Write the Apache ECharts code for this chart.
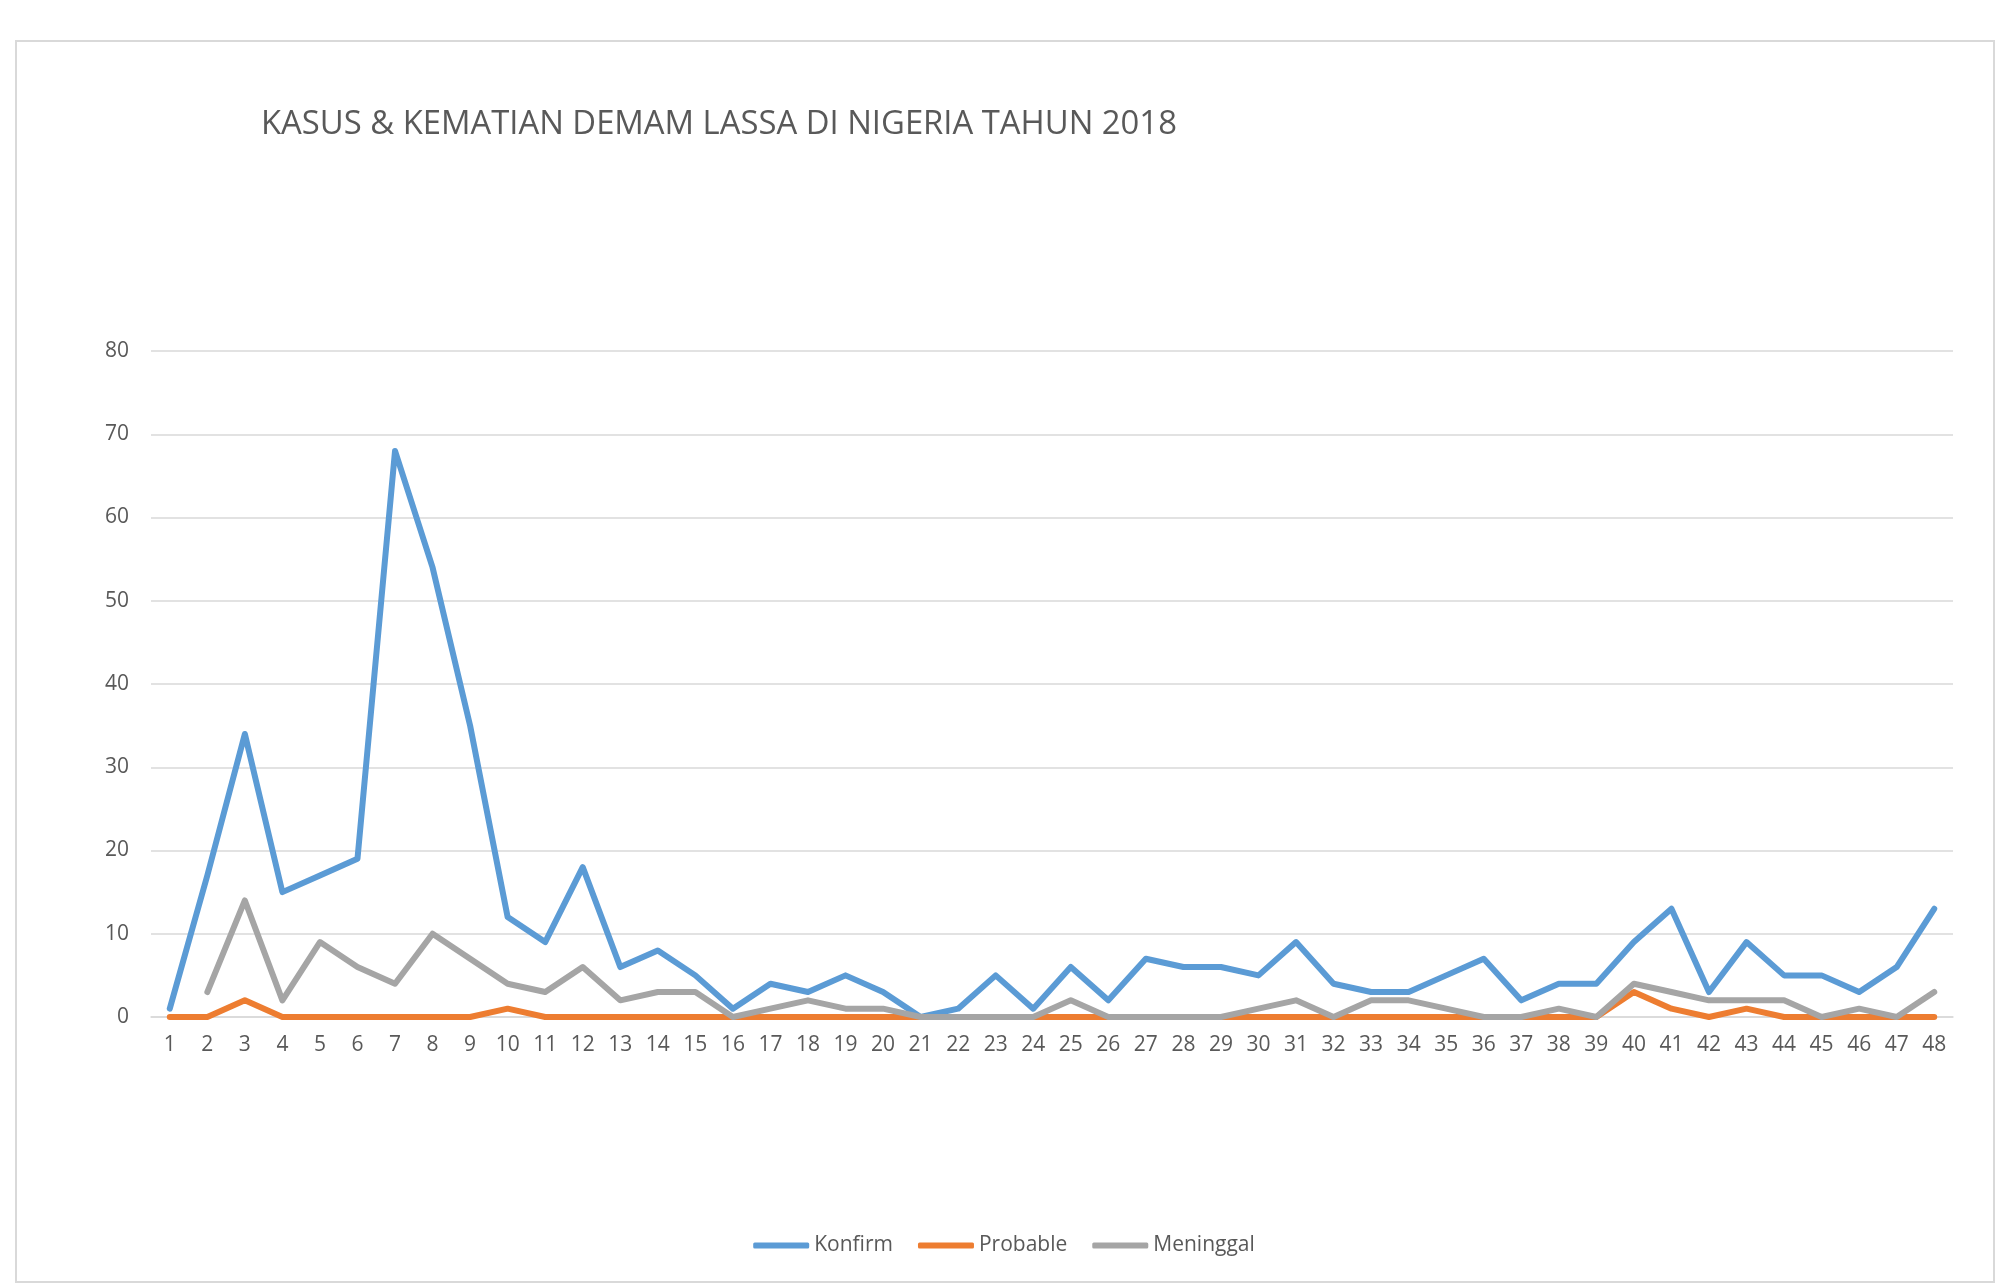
<!DOCTYPE html>
<html>
<head>
<meta charset="utf-8">
<script src="https://cdn.jsdelivr.net/npm/echarts@6/dist/echarts.min.js"></script>
<style>
  html, body { margin: 0; padding: 0; background: #fff; }
  #chart { width: 2008px; height: 1284px; }
</style>
</head>
<body>
<div id="chart"></div>
<script>
// minggu ke-1 .. 48
const weeks = []
for (let i = 1; i <= 48; i++) weeks.push(String(i))

const konfirm = [1, 17, 34, 15, 17, 19, 68, 54, 35, 12, 9, 18, 6, 8, 5, 1, 4, 3, 5, 3, 0, 1, 5, 1,
  6, 2, 7, 6, 6, 5, 9, 4, 3, 3, 5, 7, 2, 4, 4, 9, 13, 3, 9, 5, 5, 3, 6, 13]
const probable = [0, 0, 2, 0, 0, 0, 0, 0, 0, 1, 0, 0, 0, 0, 0, 0, 0, 0, 0, 0, 0, 0, 0, 0,
  0, 0, 0, 0, 0, 0, 0, 0, 0, 0, 0, 0, 0, 0, 0, 3, 1, 0, 1, 0, 0, 0, 0, 0]
// minggu 1 tidak ada data
const meninggal = ['-', 3, 14, 2, 9, 6, 4, 10, 7, 4, 3, 6, 2, 3, 3, 0, 1, 2, 1, 1, 0, 0, 0, 0,
  2, 0, 0, 0, 0, 1, 2, 0, 2, 2, 1, 0, 0, 1, 0, 4, 3, 2, 2, 2, 0, 1, 0, 3]
const yTicks = [0, 80, 10] // min, max, interval

const textColor = '#595959'
const font = '"Open Sans", "Noto Sans", sans-serif'

const chart = echarts.init(document.getElementById('chart'))

const lineSeries = (name, data, color) => ({
  name: name,
  type: 'line',
  data: data,
  color: color,
  symbol: 'none',
  lineStyle: { width: 6, color: color, cap: 'round', join: 'round' },
  animation: false
})

chart.setOption({
  backgroundColor: '#fff',
  graphic: [{
    type: 'rect',
    shape: { x: 16, y: 41, width: 1978, height: 1241 },
    style: { fill: 'none', stroke: '#D9D9D9', lineWidth: 2 }
  }],
  title: {
    text: 'KASUS & KEMATIAN DEMAM LASSA DI NIGERIA TAHUN 2018',
    left: 256,
    top: 103,
    textStyle: { color: textColor, fontFamily: font, fontSize: 32.8, fontWeight: 'normal' }
  },
  legend: {
    data: ['Konfirm', 'Probable', 'Meninggal'],
    left: 'center',
    top: 1230,
    icon: 'roundRect',
    itemWidth: 56,
    itemHeight: 6,
    itemGap: 25,
    textStyle: { color: textColor, fontFamily: font, fontSize: 21 }
  },
  grid: { left: 151, right: 55, top: 351, bottom: 267 },
  xAxis: {
    type: 'category',
    data: weeks,
    boundaryGap: true,
    axisLine: { lineStyle: { color: '#D9D9D9', width: 1.5 } },
    axisTick: { show: false },
    axisLabel: { color: textColor, fontFamily: font, fontSize: 21, margin: 18, interval: 0 }
  },
  yAxis: {
    type: 'value',
    min: yTicks[0],
    max: yTicks[1],
    interval: yTicks[2],
    axisLine: { show: false },
    axisTick: { show: false },
    splitLine: { lineStyle: { color: '#D9D9D9', width: 1.5 } },
    axisLabel: { color: textColor, fontFamily: font, fontSize: 21, margin: 22 }
  },
  series: [
    lineSeries('Konfirm', konfirm, '#5B9BD5'),
    lineSeries('Probable', probable, '#ED7D31'),
    lineSeries('Meninggal', meninggal, '#A5A5A5')
  ]
})
</script>
</body>
</html>
